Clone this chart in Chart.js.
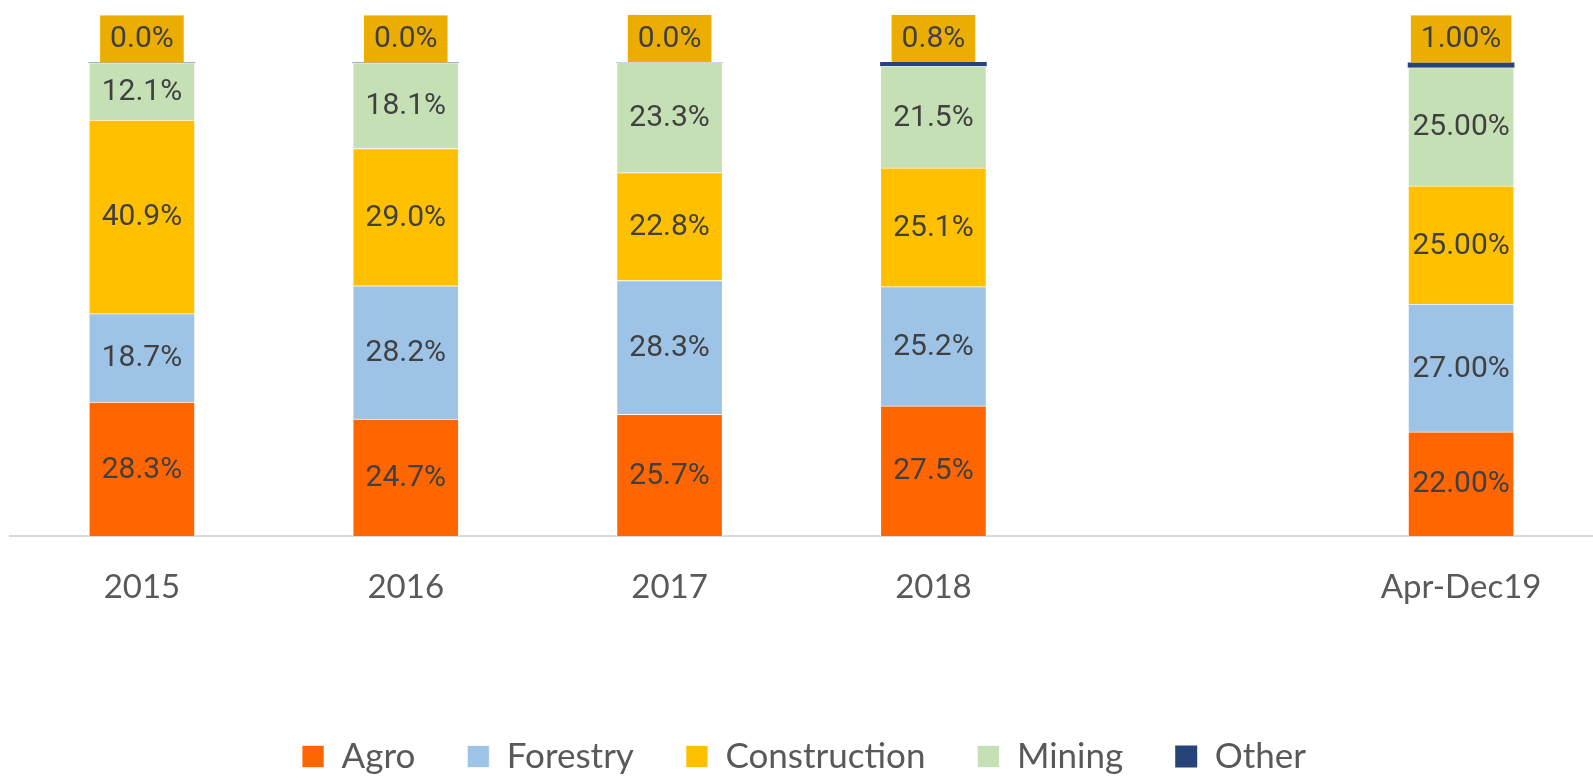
<!DOCTYPE html>
<html>
<head>
<meta charset="utf-8">
<script src="https://cdn.jsdelivr.net/npm/chart.js@4.4.1/dist/chart.umd.min.js"></script>
<style>
  html, body { margin: 0; padding: 0; background: #fff; }
  #wrap { width: 1593px; height: 778px; position: relative; }
</style>
</head>
<body>
<div id="wrap"><canvas id="c" width="1593" height="778"></canvas></div>
<script>
const categories = ['2015', '2016', '2017', '2018', '', 'Apr-Dec19'];
const agro         = [28.3, 24.7, 25.7, 27.5, null, 22.00];
const forestry     = [18.7, 28.2, 28.3, 25.2, null, 27.00];
const construction = [40.9, 29.0, 22.8, 25.1, null, 25.00];
const mining       = [12.1, 18.1, 23.3, 21.5, null, 25.00];
const other        = [0.0, 0.0, 0.0, 0.8, null, 1.00];
const decimals     = [1, 1, 1, 1, 1, 2];

const labelFont = '30px Roboto';
const labelColor = '#404040';

const labelPlugin = {
  id: 'segLabels',
  afterDatasetsDraw(chart) {
    const ctx = chart.ctx;
    ctx.save();
    ctx.font = labelFont;
    ctx.textAlign = 'center';
    ctx.textBaseline = 'middle';
    chart.data.datasets.forEach((ds, di) => {
      const meta = chart.getDatasetMeta(di);
      meta.data.forEach((el, i) => {
        const v = ds.data[i];
        if (v === null || v === undefined) return;
        const txt = v.toFixed(decimals[i]) + '%';
        if (ds.label === 'Other') {
          const cy = el.y - 24;
          const w = ctx.measureText(txt).width + 20;
          const h = 47;
          ctx.fillStyle = '#EBAD00';
          ctx.fillRect(el.x - w / 2, cy - h / 2, w, h);
          ctx.fillStyle = labelColor;
          ctx.fillText(txt, el.x, cy + 1);
        } else {
          ctx.fillStyle = labelColor;
          ctx.fillText(txt, el.x, (el.y + el.base) / 2 + 1);
        }
      });
    });
    ctx.restore();
  }
};

const mk = (label, data, color, bw) => ({
  label, data, backgroundColor: color,
  borderColor: 'rgba(255,255,255,0.7)', borderWidth: bw,
  barThickness: 106, clip: false
});

new Chart(document.getElementById('c'), {
  type: 'bar',
  data: {
    labels: categories,
    datasets: [
      mk('Agro', agro, '#FF6600', 1),
      mk('Forestry', forestry, '#9DC3E6', 1),
      mk('Construction', construction, '#FFC000', 1),
      mk('Mining', mining, '#C5E0B4', 1),
      mk('Other', other, '#264478', 0)
    ]
  },
  options: {
    responsive: false,
    animation: false,
    devicePixelRatio: 1,
    layout: { padding: { left: 10, right: -5, top: 0, bottom: -6 } },
    plugins: {
      legend: {
        position: 'bottom',
        labels: {
          boxWidth: 22, boxHeight: 22,
          padding: 52,
          color: '#595959',
          font: { family: 'Lato', size: 35 }
        }
      },
      tooltip: { enabled: false }
    },
    scales: {
      x: {
        stacked: true,
        grid: { display: false, drawTicks: false },
        border: { display: true, color: '#D9D9D9', width: 2 },
        ticks: { color: '#595959', font: { family: 'Lato', size: 33 }, padding: 32, maxRotation: 0, autoSkip: false },
        afterFit: (s) => { s.height = 151; }
      },
      y: {
        stacked: true,
        display: false,
        min: 0, max: 113.3
      }
    }
  },
  plugins: [labelPlugin]
});
</script>
</body>
</html>
